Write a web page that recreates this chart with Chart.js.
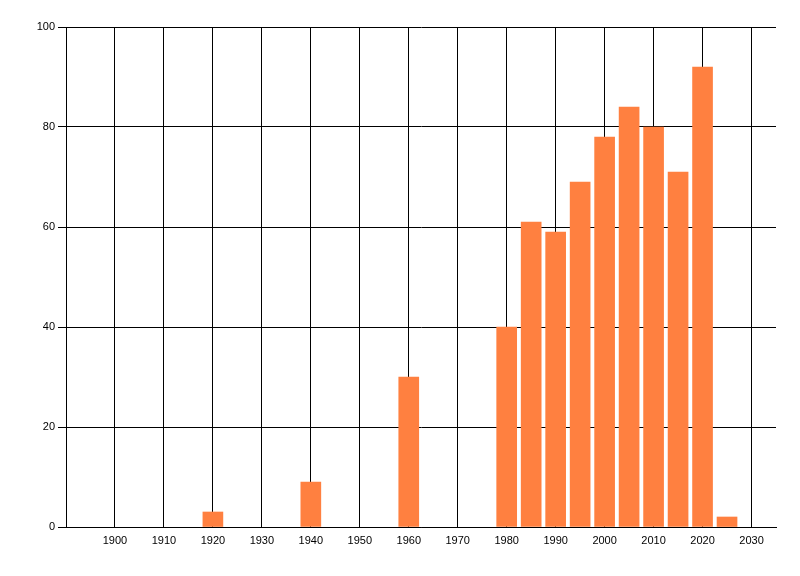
<!DOCTYPE html>
<html>
<head>
<meta charset="utf-8">
<script src="https://cdn.jsdelivr.net/npm/chart.js@4"></script>
<style>
  html, body { margin: 0; padding: 0; background: #fff; }
  #wrap { width: 800px; height: 576px; }
</style>
</head>
<body>
<div id="wrap"><canvas id="chart" width="800" height="576"></canvas></div>
<script>
// data
const years  = [1920, 1940, 1960, 1980, 1985, 1990, 1995, 2000, 2005, 2010, 2015, 2020, 2025];
const counts = [3, 9, 30, 40, 61, 59, 69, 78, 84, 80, 71, 92, 2];
const xTicks = [1900, 1910, 1920, 1930, 1940, 1950, 1960, 1970, 1980, 1990, 2000, 2010, 2020, 2030];
const yTicks = [0, 20, 40, 60, 80, 100];

const BAR_COLOR = '#ff8040';
const FONT = { family: '"Liberation Sans", Arial, sans-serif', size: 11 };

const points = years.map((y, i) => ({ x: y, y: counts[i] }));

new Chart(document.getElementById('chart'), {
  type: 'bar',
  data: {
    datasets: [{
      data: points,
      backgroundColor: BAR_COLOR,
      borderWidth: 0,
      barThickness: 20,
    }]
  },
  options: {
    responsive: false,
    animation: false,
    devicePixelRatio: 1,
    layout: { padding: { top: 27, right: 24, left: 0, bottom: 0 } },
    plugins: {
      legend: { display: false },
      tooltip: { enabled: false },
    },
    scales: {
      x: {
        type: 'linear',
        min: 1890,
        max: 2035,
        offset: false,
        afterBuildTicks(scale) {
          scale.ticks = xTicks.map(v => ({ value: v }));
        },
        afterFit(scale) { scale.height = 49; },
        grid: {
          color: '#000',
          lineWidth: 1,
          offset: false,
          tickLength: 0,
          drawTicks: false,
        },
        border: { color: '#000', width: 1 },
        ticks: {
          color: '#000',
          font: FONT,
          padding: 7,
          maxRotation: 0,
          autoSkip: false,
          callback: v => String(v),
        }
      },
      y: {
        min: 0,
        max: 100,
        afterBuildTicks(scale) {
          scale.ticks = yTicks.map(v => ({ value: v }));
        },
        afterFit(scale) { scale.width = 66; },
        grid: {
          color: '#000',
          lineWidth: 1,
          tickLength: 8,
        },
        border: { color: '#000', width: 1 },
        ticks: {
          color: '#000',
          font: FONT,
          padding: 3,
        }
      }
    }
  }
});
</script>
</body>
</html>
